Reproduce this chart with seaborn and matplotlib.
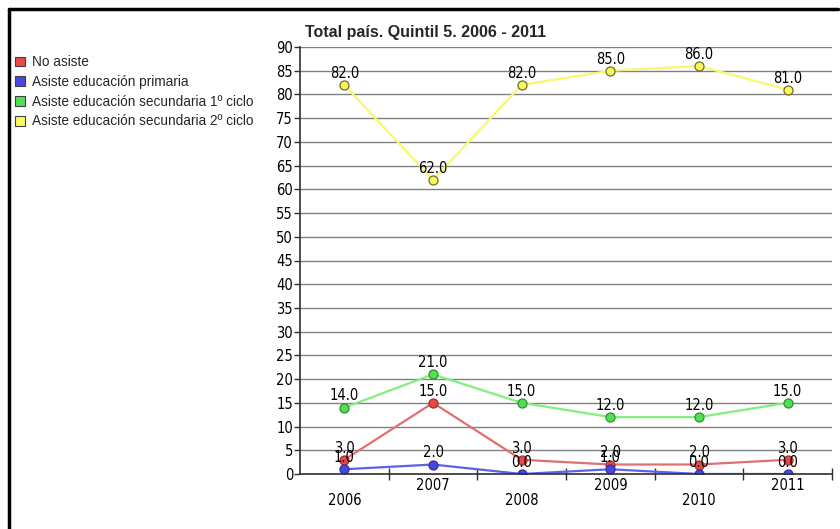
from matplotlib import pyplot as plt
from matplotlib.patches import Patch
import matplotlib.lines as mlines
import seaborn as sns
import pandas as pd
import numpy as np

years = ["2006", "2007", "2008", "2009", "2010", "2011"]
series_names = ["No asiste", "Asiste educación primaria",
                "Asiste educación secundaria 1º ciclo", "Asiste educación secundaria 2º ciclo"]
no_asiste = [3, 15, 3, 2, 2, 3]
primaria = [1, 2, 0, 1, 0, 0]
secundaria_1 = [14, 21, 15, 12, 12, 15]
secundaria_2 = [82, 62, 82, 85, 86, 81]

fill_colors = ["#E84848", "#4848E0", "#50E050", "#F8F860"]
line_colors = ["#E07070", "#6060E8", "#80F080", "#F8F870"]
edge_colors = ["#A03030", "#3030A0", "#309030", "#707020"]

sns.set_style("white")
plt.rcParams['font.family'] = ['DejaVu Sans']
plt.rcParams['font.stretch'] = 'condensed'

rows = []
for name, vals in zip(series_names, [no_asiste, primaria, secundaria_1, secundaria_2]):
	for i, v in enumerate(vals):
		rows.append({"serie": name, "x": i, "valor": v})
df = pd.DataFrame(rows)

fig = plt.figure(figsize=(8.4, 5.29), dpi=100)
ax = fig.add_axes([300/840, (529-474)/529, (832-300)/840, (474-47)/529])

sns.lineplot(data=df, x="x", y="valor", hue="serie", hue_order=series_names,
			 palette=line_colors, marker="o", markersize=6.5, linewidth=1.6,
			 legend=False, ax=ax)

for line, ec, fc in zip(ax.get_lines(), edge_colors, fill_colors):
	line.set_markeredgecolor(ec)
	line.set_markerfacecolor(fc)
	line.set_markeredgewidth(0.9)

#data labels above every point
for vals in [no_asiste, primaria, secundaria_1, secundaria_2]:
	for i, v in enumerate(vals):
		ax.annotate(f"{v:.1f}", (i, v), xytext=(0, 3), textcoords="offset points",
					ha="center", va="bottom", fontsize=10.5, color="black")

ax.set_xlim(-0.5, 5.5)
ax.set_ylim(0, 90)
ax.set_yticks(np.arange(0, 91, 5))
ax.yaxis.grid(True, color="#808080", linewidth=1)
ax.set_axisbelow(True)
ax.tick_params(axis="y", length=4, width=1, color="#303030", direction="out",
			   labelsize=10.5, pad=1, left=True, labelcolor="black")

ax.set_xticks(range(6))
ax.set_xticklabels(years)
ax.set_xticks(np.arange(0.5, 6, 1), minor=True)
ax.tick_params(axis="x", which="major", length=0, labelsize=10.5, labelcolor="black")
ax.tick_params(axis="x", which="minor", length=8, width=1, color="#303030",
			   direction="inout", bottom=True)
for i, t in enumerate(ax.xaxis.get_major_ticks()):
	t.set_pad(14 if i % 2 == 0 else 3)

for s in ["top", "right"]:
	ax.spines[s].set_visible(False)
for s in ["left", "bottom"]:
	ax.spines[s].set_color("#303030")
	ax.spines[s].set_linewidth(1.2)
ax.set_xlabel("")
ax.set_ylabel("")

fig.text(305/840, 1 - 33/529, "Total país. Quintil 5. 2006 - 2011", fontsize=11.5,
		 fontweight="bold", family=["Liberation Sans", "DejaVu Sans"], fontstretch="normal",
		 va="center", ha="left")

handles = [Patch(facecolor=fc, edgecolor="#404040", linewidth=0.8) for fc in fill_colors]
fig.legend(handles, series_names, loc="upper left", bbox_to_anchor=(3/840, 1 - 43/529),
		   frameon=False, handlelength=0.75, handleheight=0.75, handletextpad=0.45,
		   labelspacing=0.42, prop={"family": ["Liberation Sans", "DejaVu Sans"], "size": 9.8,
									"stretch": "normal"})

#black border of the chart frame
fig.add_artist(mlines.Line2D([9/840, 9/840], [0, 1 - 9/529], color="black", linewidth=2.5))
fig.add_artist(mlines.Line2D([9/840, 838/840], [1 - 9/529, 1 - 9/529], color="black", linewidth=2.5))

plt.savefig("out.png", dpi=100)
